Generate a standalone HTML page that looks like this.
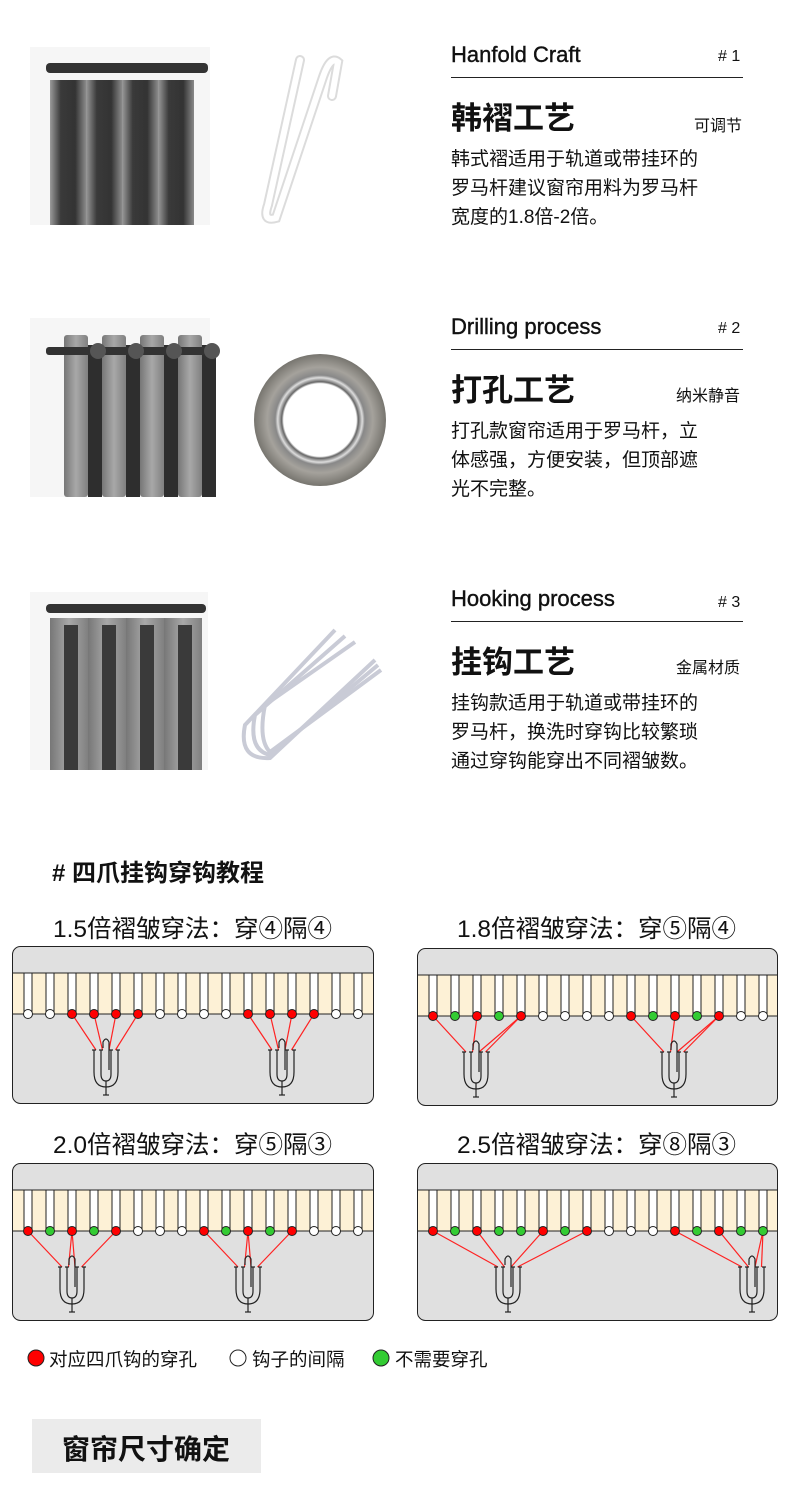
<!DOCTYPE html>
<html><head><meta charset="utf-8">
<style>
html,body{margin:0;padding:0;background:#fff;}
body{width:790px;height:1498px;position:relative;overflow:hidden;font-family:"Liberation Sans","Noto Sans CJK SC",sans-serif;color:#111;}
.t{position:absolute;white-space:nowrap;}
</style></head><body>
<svg id="s" width="790" height="1498" style="position:absolute;left:0;top:0" xmlns="http://www.w3.org/2000/svg">
<defs>
<linearGradient id="dk" x1="0" x2="1"><stop offset="0" stop-color="#9a9a9a"/><stop offset=".3" stop-color="#3a3a3a"/><stop offset=".7" stop-color="#333"/><stop offset="1" stop-color="#8a8a8a"/></linearGradient>
<linearGradient id="lg" x1="0" x2="1"><stop offset="0" stop-color="#777"/><stop offset=".5" stop-color="#a8a8a8"/><stop offset="1" stop-color="#808080"/></linearGradient>
<radialGradient id="gr"><stop offset=".55" stop-color="#fff"/><stop offset=".58" stop-color="#666"/><stop offset=".64" stop-color="#ddd"/><stop offset=".68" stop-color="#888"/><stop offset=".8" stop-color="#a5a29c"/><stop offset="1" stop-color="#77756f"/></radialGradient>
</defs>
<g id="g"></g>
</svg>
<script>
var S='';
function r(x,y,w,h,f,e){S+='<rect x="'+x+'" y="'+y+'" width="'+w+'" height="'+h+'" fill="'+f+'" '+(e||'')+'/>';}
r(30,47,180,178,'#f6f6f6');
for(var i=0;i<4;i++){r(50+i*36,80,36,145,'url(#dk)');}
r(46,63,162,10,'#333','rx="4"');
S+='<path d="M300 60 L268 205 Q262 222 276 218 L322 80 Q330 55 338 62 L332 96" fill="none" stroke="#dcdcdc" stroke-width="10" stroke-linecap="round"/>';
S+='<path d="M300 60 L268 205 Q262 222 276 218 L322 80 Q330 55 338 62 L332 96" fill="none" stroke="#fff" stroke-width="6" stroke-linecap="round"/>';
r(30,318,180,179,'#f6f6f6');
for(var i=0;i<4;i++){r(64+i*38,335,24,162,'url(#lg)','rx="3"');r(88+i*38,345,14,152,'#2e2e2e');}
r(46,347,160,8,'#333','rx="3"');
for(var i=0;i<4;i++){S+='<circle cx="'+(98+i*38)+'" cy="351" r="8" fill="#555"/>';}
S+='<circle cx="320" cy="420" r="66" fill="url(#gr)"/>';
r(30,592,178,178,'#f6f6f6');
for(var i=0;i<4;i++){r(50+i*38,618,38,152,'url(#lg)');r(64+i*38,625,14,145,'#3a3a3a');}
r(46,604,160,9,'#333','rx="4"');
for(var k=0;k<3;k++){var d=k*10;S+='<path d="M'+(335+d)+' '+(630+d*0.6)+' L'+(245+d)+' '+(725-d)+' Q'+(238+d)+' '+(760-d)+' '+(270)+' '+(758-d*0.3)+' L'+(375+d*0.3)+' '+(660+d*0.5)+'" fill="none" stroke="#c9cbd6" stroke-width="4"/>';}
for(var k=0;k<3;k++){r(451,77+k*272,292,1,'#222');}
function panel(x0,y0,w,pat,hooks,links){
 S+='<rect x="'+(x0+0.5)+'" y="'+(y0+0.5)+'" width="'+w+'" height="157" rx="8" fill="#e0e0e0" stroke="#222"/>';
 r(x0+1,y0+27,w-1,41,'#fdf1d6');
 S+='<line x1="'+x0+'" y1="'+(y0+27)+'" x2="'+(x0+w)+'" y2="'+(y0+27)+'" stroke="#222"/>';
 S+='<line x1="'+x0+'" y1="'+(y0+68)+'" x2="'+(x0+w)+'" y2="'+(y0+68)+'" stroke="#222"/>';
 var hx=[];
 for(var i=0;i<17;i++){var cx=x0+16+i*22; if(cx>x0+w-4)break; hx.push(cx);
  r(cx-4,y0+27,8,41,'#fff','stroke="#222" stroke-width="1"');}
 for(var j=0;j<links.length;j++){var L=links[j];for(var q=0;q<4;q++){var px=L[1]-10+q*6.5;S+='<line x1="'+hx[L[0][q]]+'" y1="'+(y0+68)+'" x2="'+px+'" y2="'+(y0+104)+'" stroke="#f22" stroke-width="1.2"/>';}}
 for(var i=0;i<hx.length;i++){var c=pat[i]=='R'?'#f00':pat[i]=='G'?'#3c3':'#fff';
  S+='<circle cx="'+hx[i]+'" cy="'+(y0+68)+'" r="4.5" fill="'+c+'" stroke="#222"/>';}
 for(var j=0;j<hooks.length;j++){var c=hooks[j],y=y0+104;
  S+='<g fill="none" stroke="#222" stroke-width="1.2">';
  S+='<path d="M'+(c-12)+' '+y+' V'+(y+22)+' Q'+(c-12)+' '+(y+37)+' '+c+' '+(y+37)+' Q'+(c+12)+' '+(y+37)+' '+(c+12)+' '+(y+22)+' V'+y+'"/>';
  S+='<path d="M'+(c-5)+' '+y+' V'+(y+24)+' Q'+(c-5)+' '+(y+31)+' '+c+' '+(y+31)+' Q'+(c+5)+' '+(y+31)+' '+(c+5)+' '+(y+24)+' V'+y+'"/>';
  S+='<path d="M'+(c-3)+' '+(y-2)+' V'+(y-8)+' Q'+c+' '+(y-14)+' '+(c+3)+' '+(y-8)+' V'+(y+20)+'"/>';
  S+='<line x1="'+c+'" y1="'+(y+31)+'" x2="'+c+'" y2="'+(y+45)+'"/><line x1="'+(c-3)+'" y1="'+(y+45)+'" x2="'+(c+3)+'" y2="'+(y+45)+'"/>';
  for(var q=0;q<4;q++){var px=c-12+[0,7,17,24][q];S+='<line x1="'+(px-2)+'" y1="'+y+'" x2="'+(px+2)+'" y2="'+y+'"/>';}
  S+='</g>';}
}
panel(12,946,361,'WWRRRRWWWWRRRRWW',[106,282],[[[2,3,4,5],106],[[10,11,12,13],282]]);
panel(417,948,360,'RGRGRWWWWRGRGRWW',[476,674],[[[0,2,4,4],476],[[9,11,13,13],674]]);
panel(12,1163,361,'RGRGRWWWRGRGRWWW',[72,248],[[[0,2,2,4],72],[[8,10,10,12],248]]);
panel(417,1163,360,'RGRGGRGRWWWRGRGG',[508,752],[[[0,2,5,7],508],[[11,13,15,15],752]]);
S+='<circle cx="36" cy="1358" r="8" fill="#f00" stroke="#222"/><circle cx="238" cy="1358" r="8" fill="#fff" stroke="#222"/><circle cx="381" cy="1358" r="8" fill="#3c3" stroke="#222"/>';
r(32,1419,229,54,'#ebebeb');
document.getElementById('g').innerHTML=S;
</script>
<div class="t" style="left:451px;top:42px;font-size:22px;-webkit-text-stroke:0.4px #111">Hanfold Craft</div>
<div class="t" style="left:718px;top:48px;font-size:16px"># 1</div>
<div class="t" style="left:451px;top:93px;font-size:31px;font-weight:bold">韩褶工艺</div>
<div class="t" style="left:694px;top:112px;font-size:16px">可调节</div>
<div class="t" style="left:451px;top:145px;font-size:19px;line-height:29px">韩式褶适用于轨道或带挂环的<br>罗马杆建议窗帘用料为罗马杆<br>宽度的1.8倍-2倍。</div>
<div class="t" style="left:451px;top:314px;font-size:22px;-webkit-text-stroke:0.4px #111">Drilling process</div>
<div class="t" style="left:718px;top:320px;font-size:16px"># 2</div>
<div class="t" style="left:451px;top:365px;font-size:31px;font-weight:bold">打孔工艺</div>
<div class="t" style="left:676px;top:382px;font-size:16px">纳米静音</div>
<div class="t" style="left:451px;top:417px;font-size:19px;line-height:29px">打孔款窗帘适用于罗马杆，立<br>体感强，方便安装，但顶部遮<br>光不完整。</div>
<div class="t" style="left:451px;top:586px;font-size:22px;-webkit-text-stroke:0.4px #111">Hooking process</div>
<div class="t" style="left:718px;top:594px;font-size:16px"># 3</div>
<div class="t" style="left:451px;top:637px;font-size:31px;font-weight:bold">挂钩工艺</div>
<div class="t" style="left:676px;top:654px;font-size:16px">金属材质</div>
<div class="t" style="left:451px;top:689px;font-size:19px;line-height:29px">挂钩款适用于轨道或带挂环的<br>罗马杆，换洗时穿钩比较繁琐<br>通过穿钩能穿出不同褶皱数。</div>
<div class="t" style="left:52px;top:853px;font-size:24px;font-weight:bold"># 四爪挂钩穿钩教程</div>
<div class="t" style="left:53px;top:910px;font-size:24.5px">1.5倍褶皱穿法：穿④隔④</div>
<div class="t" style="left:457px;top:910px;font-size:24.5px">1.8倍褶皱穿法：穿⑤隔④</div>
<div class="t" style="left:53px;top:1126px;font-size:24.5px">2.0倍褶皱穿法：穿⑤隔③</div>
<div class="t" style="left:457px;top:1126px;font-size:24.5px">2.5倍褶皱穿法：穿⑧隔③</div>
<div class="t" style="left:49px;top:1346px;font-size:18.5px">对应四爪钩的穿孔</div>
<div class="t" style="left:252px;top:1346px;font-size:18.5px">钩子的间隔</div>
<div class="t" style="left:395px;top:1346px;font-size:18.5px">不需要穿孔</div>
<div class="t" style="left:62px;top:1428px;font-size:28px;font-weight:bold">窗帘尺寸确定</div>
</body></html>
